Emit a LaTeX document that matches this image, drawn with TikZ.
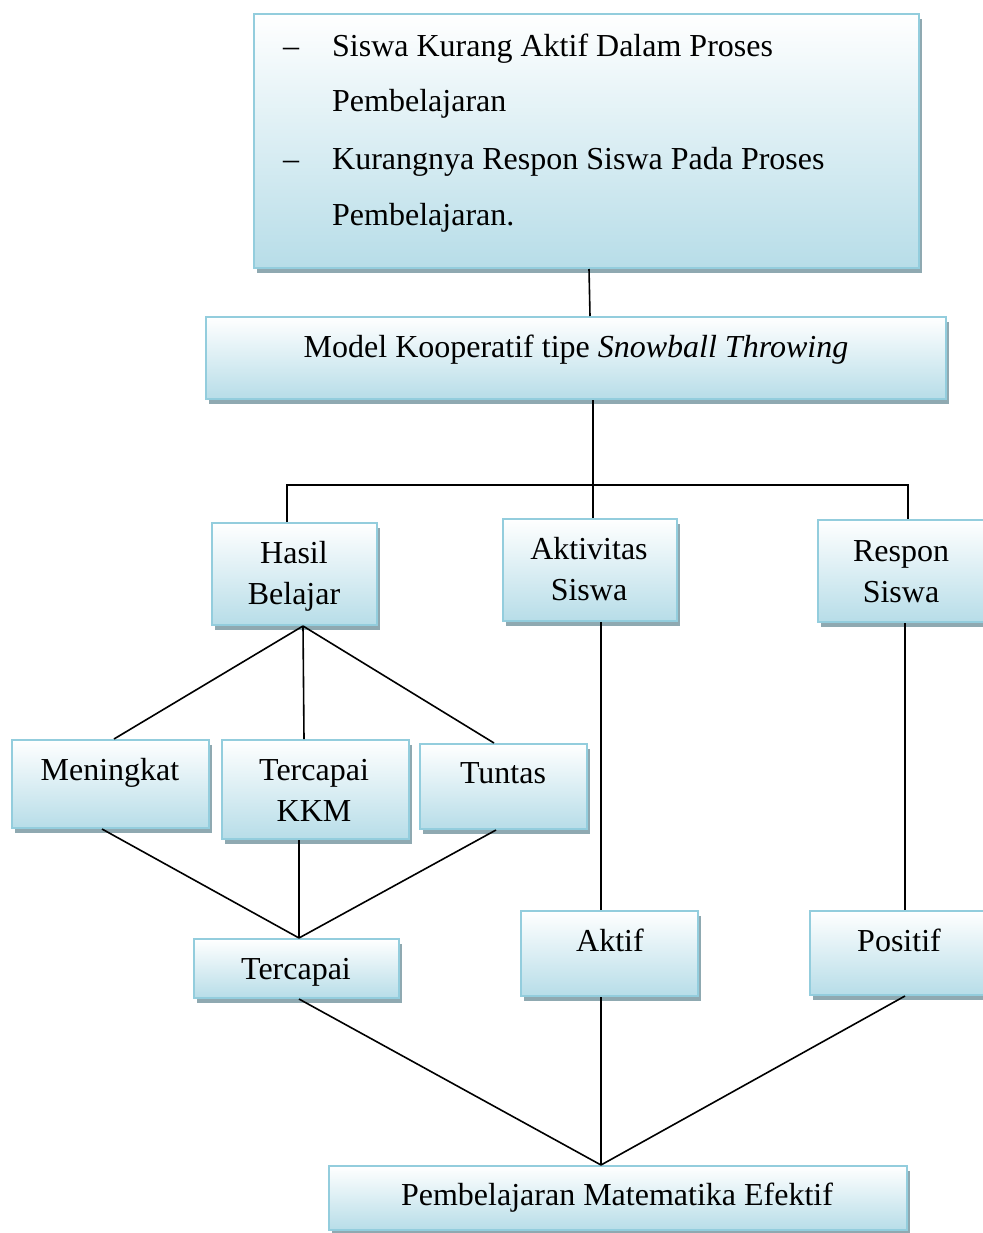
\documentclass[tikz,border=0pt]{standalone}
\usepackage{fontspec}
\setmainfont{Liberation Serif}
\usetikzlibrary{shadows}
\definecolor{fillc}{HTML}{B7DDE8}
\definecolor{bordc}{HTML}{93CDDD}
\definecolor{shadc}{HTML}{8FA9B1}
\tikzset{
  box/.style={draw=bordc, line width=2pt, top color=white, bottom color=fillc,
    drop shadow={shadow xshift=3pt, shadow yshift=-5pt, fill=shadc, opacity=1},
    inner sep=0pt, anchor=north west, rectangle},
  lbl/.style={anchor=base, inner sep=0pt, font=\fontsize{32}{41}\selectfont},
  conn/.style={draw=black, line width=1.6pt}
}
\begin{document}
\begin{tikzpicture}[x=1pt,y=-1pt]
\useasboundingbox (0,0) rectangle (982,1233);
% boxes
\node[box, minimum width=665pt, minimum height=254pt] (top) at (253,13) {};
\node[box, minimum width=740pt, minimum height=82pt] (model) at (205,316) {};
\node[box, minimum width=165pt, minimum height=102pt] (hasil) at (211,522) {};
\node[box, minimum width=174pt, minimum height=102pt] (aktivitas) at (502,518) {};
\node[box, minimum width=168pt, minimum height=102pt] (respon) at (817,519) {};
\node[box, minimum width=197pt, minimum height=88pt] (meningkat) at (11,739) {};
\node[box, minimum width=187pt, minimum height=99pt] (tkkm) at (221,739) {};
\node[box, minimum width=167pt, minimum height=85pt] (tuntas) at (419,743) {};
\node[box, minimum width=205pt, minimum height=59pt] (tercapai) at (193,938) {};
\node[box, minimum width=177pt, minimum height=85pt] (aktif) at (520,910) {};
\node[box, minimum width=180pt, minimum height=84pt] (positif) at (809,910) {};
\node[box, minimum width=578pt, minimum height=64pt] (pemb) at (328,1165) {};
% texts
\node[lbl, anchor=base west] (ttop) at (283,57) {\begin{tabular}[t]{@{}l@{}l@{}}
\makebox[49pt][l]{–} & Siswa Kurang Aktif Dalam Proses\\[14pt]
 & Pembelajaran\\[17pt]
\makebox[49pt][l]{–} & Kurangnya Respon Siswa Pada Proses\\[15pt]
 & Pembelajaran.\end{tabular}};
\node[lbl] (tmodel) at (576,357) {Model Kooperatif tipe \textit{Snowball Throwing}};
\node[lbl] (thasil) at (294,563) {\begin{tabular}[t]{@{}c@{}}Hasil\\Belajar\end{tabular}};
\node[lbl] (taktivitas) at (589,559) {\begin{tabular}[t]{@{}c@{}}Aktivitas\\Siswa\end{tabular}};
\node[lbl] (trespon) at (901,561) {\begin{tabular}[t]{@{}c@{}}Respon\\Siswa\end{tabular}};
\node[lbl] (tmeningkat) at (110,780) {Meningkat};
\node[lbl] (ttkkm) at (314,780) {\begin{tabular}[t]{@{}c@{}}Tercapai\\KKM\end{tabular}};
\node[lbl] (ttuntas) at (503,783) {Tuntas};
\node[lbl] (ttercapai) at (296,979) {Tercapai};
\node[lbl] (taktif) at (610,951) {Aktif};
\node[lbl] (tpositif) at (899,951) {Positif};
\node[lbl] (tpemb) at (617,1205) {Pembelajaran Matematika Efektif};
% connectors
\coordinate (bus) at (592,485);
\draw[conn] ([xshift=2.5pt]top.south) -- ([xshift=14pt]model.north);
\draw[conn] ([xshift=17pt]model.south) -- ([xshift=17pt]model.south |- bus);
\draw[conn] ([xshift=-7.5pt]hasil.north) |- (bus) -| ([xshift=6pt]respon.north);
\draw[conn] ([xshift=3pt]aktivitas.north) -- ([xshift=3pt]aktivitas.north |- bus);
\draw[conn] ([xshift=8.5pt]hasil.south) -- ([xshift=3.5pt]meningkat.north);
\draw[conn] ([xshift=8.5pt]hasil.south) -- ([xshift=-11.5pt]tkkm.north);
\draw[conn] ([xshift=8.5pt]hasil.south) -- ([xshift=-9.5pt]tuntas.north);
\draw[conn] ([xshift=-8.5pt]meningkat.south) -- ([xshift=2.5pt]tercapai.north);
\draw[conn] ([xshift=-16.5pt]tkkm.south) -- ([xshift=2.5pt]tercapai.north);
\draw[conn] ([xshift=-7.5pt]tuntas.south) -- ([xshift=2.5pt]tercapai.north);
\draw[conn] ([xshift=11pt]aktivitas.south) -- ([xshift=-8.5pt]aktif.north);
\draw[conn] ([xshift=3pt]respon.south) -- ([xshift=5pt]positif.north);
\draw[conn] ([xshift=2.5pt]tercapai.south) -- ([xshift=-17pt]pemb.north);
\draw[conn] ([xshift=-8.5pt]aktif.south) -- ([xshift=-17pt]pemb.north);
\draw[conn] ([xshift=5pt]positif.south) -- ([xshift=-17pt]pemb.north);
\end{tikzpicture}
\end{document}
